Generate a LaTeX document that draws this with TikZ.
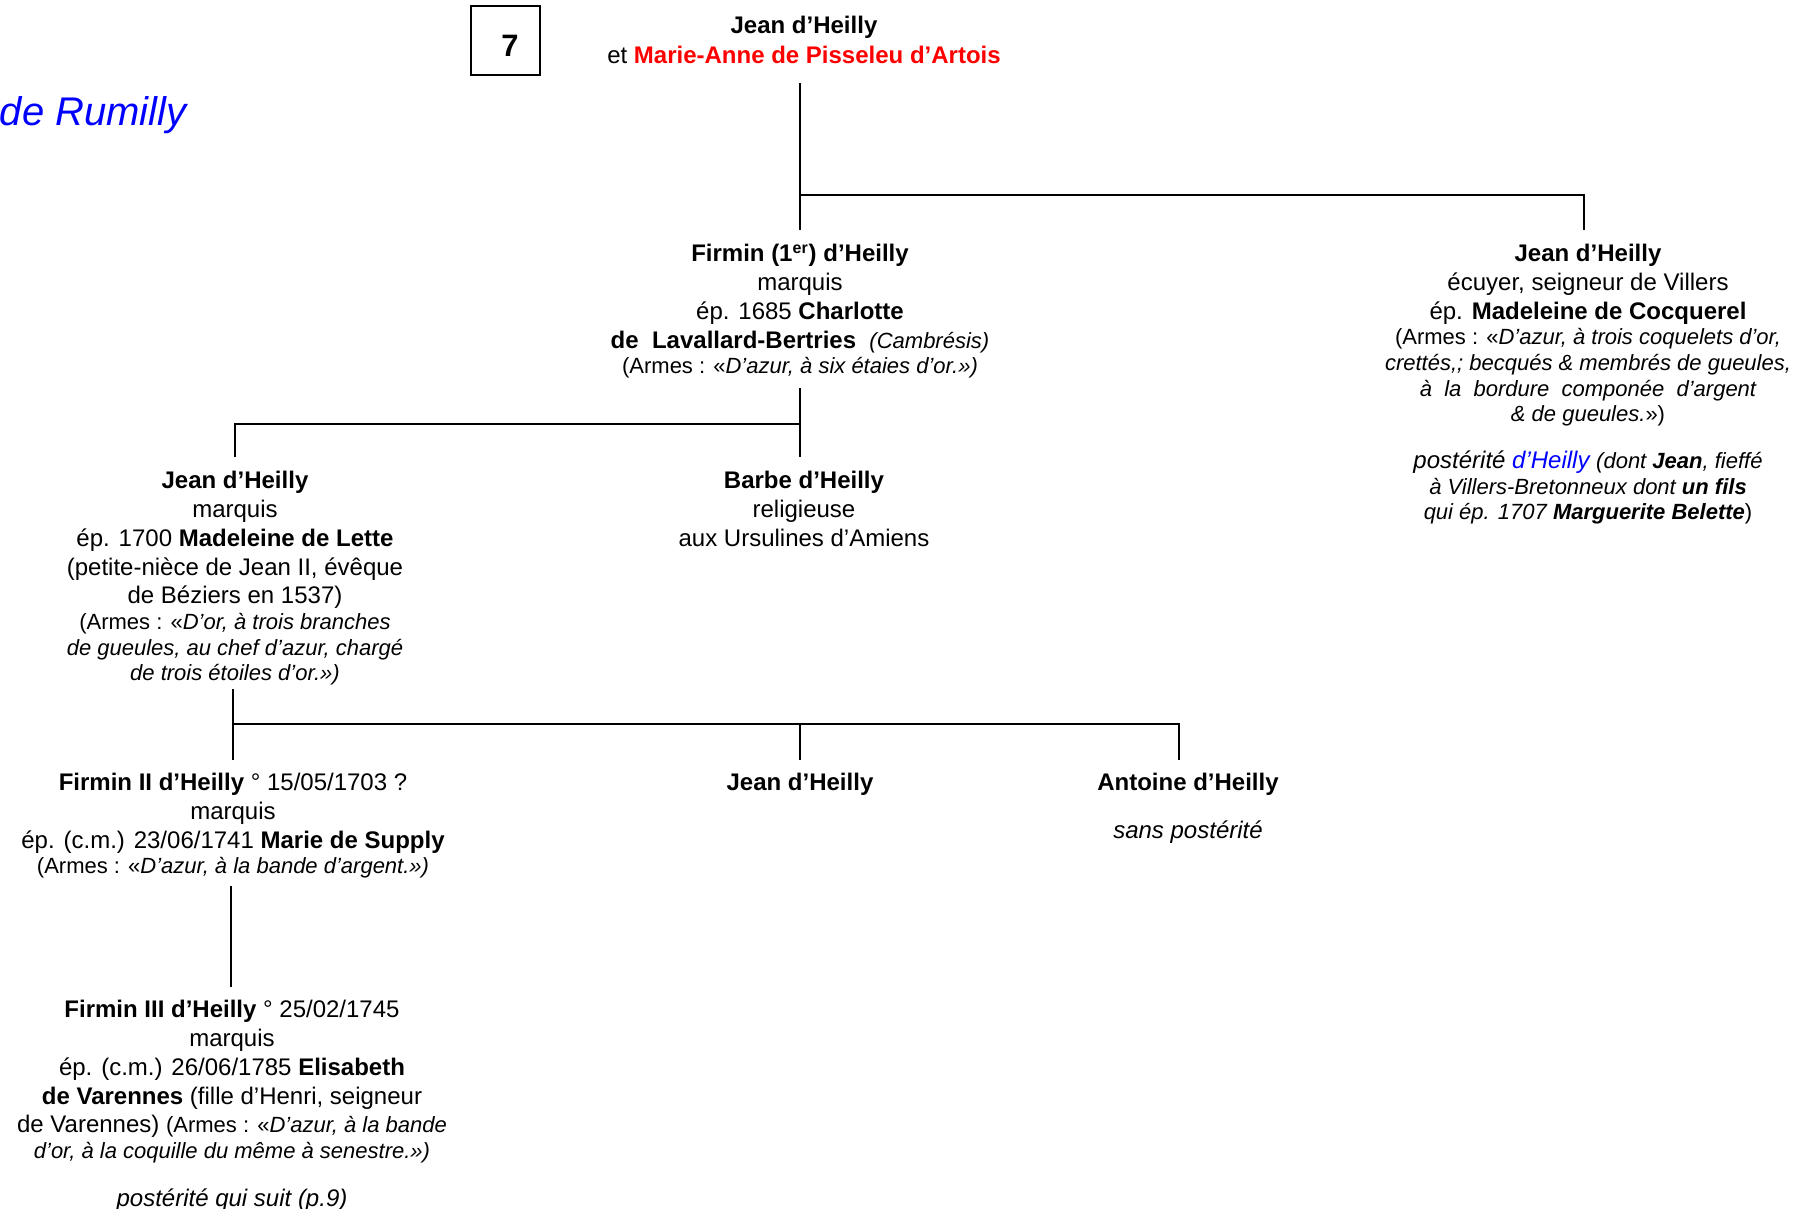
\documentclass[tikz,border=0pt]{standalone}
\usepackage{fontspec}
\setmainfont{Liberation Sans}
\newcommand\smallsz{\fontsize{11}{12.9}\selectfont}
\begin{document}
\begin{tikzpicture}[x=0.5pt,y=-0.5pt,
  person/.style={align=center, anchor=north, inner sep=0pt, font=\fontsize{12}{14.4}\selectfont},
  conn/.style={line width=1.15pt}]
\useasboundingbox (0,0) rectangle (1800,1209);

% page number box
\node[draw, line width=0.7pt, minimum width=34.5pt, minimum height=34.5pt, inner sep=0pt,
  font=\bfseries\fontsize{15}{18}\selectfont] (num) at (505.5,40.5) {};
\node[inner sep=0pt, font=\bfseries\fontsize{15.5}{18}\selectfont] (numtxt) at (510,46) {7};
% clipped title
\node[anchor=base east, inner sep=0pt, text=blue, font=\itshape\fontsize{20}{24}\selectfont] (rum) at (187,126) {de Rumilly};

% persons
\node[person] (top) at (804,16) {\textbf{Jean d’Heilly}\\[0.6pt]et \textbf{\color{red}Marie-Anne de Pisseleu d’Artois}};

\node[person] (firmin) at (800,244) {\textbf{Firmin (1\textsuperscript{er}) d’Heilly}\\
  marquis\\
  ép. 1685 \textbf{Charlotte}\\
  \textbf{de\ \ Lavallard-Bertries}\ \ {\smallsz\itshape (Cambrésis)}\\[-1.6pt]
  {\smallsz (Armes : «\textit{D’azur, à six étaies d’or.»)}}};

\node[person] (jeanr) at (1588,244) {\textbf{Jean d’Heilly}\\
  écuyer, seigneur de Villers\\
  ép. \textbf{Madeleine de Cocquerel}\\[-1.6pt]
  {\smallsz (Armes : «\textit{D’azur,\ à\ trois\ coquelets\ d’or,}}\\[-1.6pt]
  {\smallsz\itshape crettés,; becqués \& membrés de gueules,}\\[-1.6pt]
  {\smallsz\itshape à\ \ la\ \ bordure\ \ componée\ \ d’argent}\\[-1.6pt]
  {\smallsz\itshape \& de gueules.\upshape»)}\\[9pt]
  {\itshape postérité \textcolor{blue}{d’Heilly} {\smallsz (dont \textbf{Jean}, fieffé}}\\[-1.6pt]
  {\smallsz\itshape à Villers-Bretonneux dont \textbf{un fils}}\\[-1.6pt]
  {\smallsz\itshape qui ép. 1707 \textbf{Marguerite Belette}\upshape)}};

\node[person] (jeanl) at (235,471) {\textbf{Jean d’Heilly}\\
  marquis\\
  ép. 1700 \textbf{Madeleine de Lette}\\
  (petite-nièce de Jean II, évêque\\
  de Béziers en 1537)\\[-1.6pt]
  {\smallsz (Armes : «\textit{D’or, à trois branches}}\\[-1.6pt]
  {\smallsz\itshape de gueules, au chef d’azur, chargé}\\[-1.6pt]
  {\smallsz\itshape de trois étoiles d’or.»)}};

\node[person] (barbe) at (804,471) {\textbf{Barbe d’Heilly}\\
  religieuse\\
  aux Ursulines d’Amiens};

\node[person] (firmin2) at (233,773) {\textbf{Firmin II d’Heilly} ° 15/05/1703 ?\\
  marquis\\
  ép. (c.m.) 23/06/1741 \textbf{Marie de Supply}\\[-1.6pt]
  {\smallsz (Armes : «\textit{D’azur, à la bande d’argent.»)}}};

\node[person] (jeanm) at (800,773) {\textbf{Jean d’Heilly}};

\node[person] (antoine) at (1188,773) {\textbf{Antoine d’Heilly}\\[9.5pt]
  \textit{sans postérité}};

\node[person] (firmin3) at (232,1000) {\textbf{Firmin III d’Heilly} ° 25/02/1745\\
  marquis\\
  ép. (c.m.) 26/06/1785 \textbf{Elisabeth}\\
  \textbf{de Varennes} (fille d’Henri, seigneur\\
  de Varennes) {\smallsz (Armes : «\textit{D’azur, à la bande}}\\[-1.6pt]
  {\smallsz\itshape d’or, à la coquille du même à senestre.»)}\\[9.5pt]
  \textit{postérité qui suit (p.9)}};

% connector points
\coordinate (t0) at (800,83);
\coordinate (t1) at (800,195);
\coordinate (t2) at (800,230);
\coordinate (r1) at (1584,230);
\coordinate (f0) at (800,388);
\coordinate (f1) at (800,424);
\coordinate (f2) at (800,457);
\coordinate (l1) at (235,457);
\coordinate (j0) at (233,689);
\coordinate (j1) at (233,724);
\coordinate (j2) at (233,760);
\coordinate (m1) at (800,760);
\coordinate (a1) at (1179,760);
\coordinate (k0) at (231,886);
\coordinate (k1) at (231,987);

\draw[conn] (t0) -- (t2);
\draw[conn] (t1) -| (r1);
\draw[conn] (f0) -- (f2);
\draw[conn] (f1) -| (l1);
\draw[conn] (j0) -- (j2);
\draw[conn] (j1) -| (a1);
\draw[conn] (j1 -| m1) -- (m1);
\draw[conn] (k0) -- (k1);
\end{tikzpicture}
\end{document}
